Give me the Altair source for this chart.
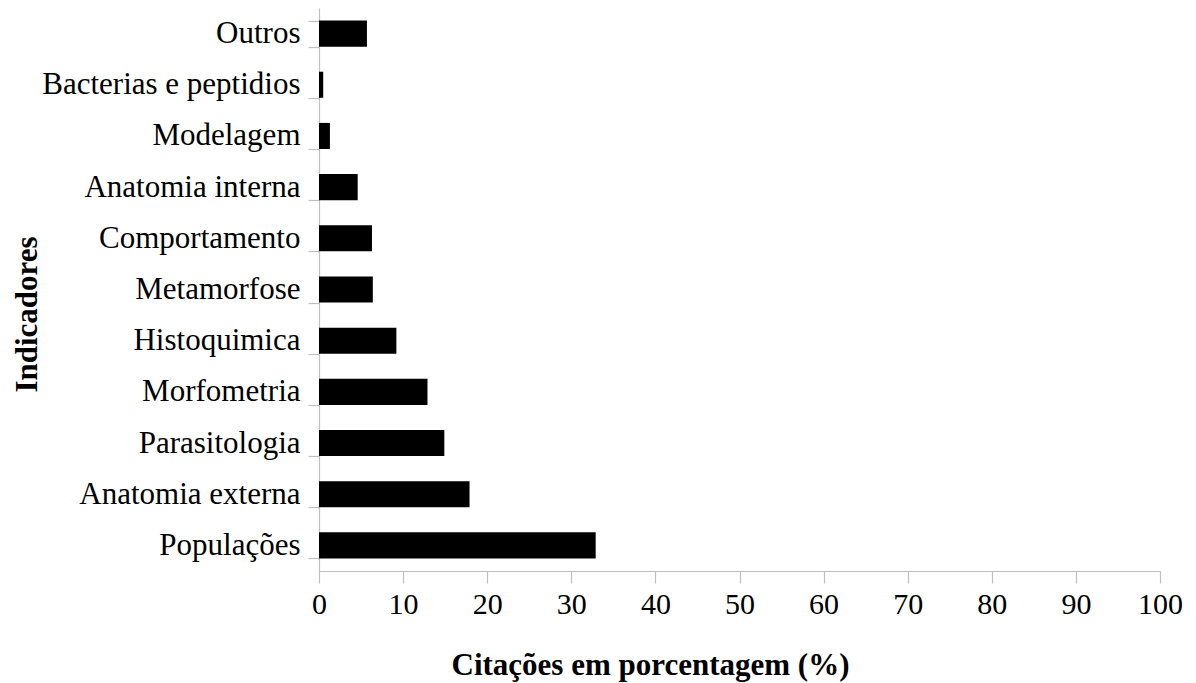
import altair as alt
import pandas as pd

categorias = ["Outros", "Bacterias e peptidios", "Modelagem", "Anatomia interna",
              "Comportamento", "Metamorfose", "Histoquimica", "Morfometria",
              "Parasitologia", "Anatomia externa", "Populações"]
valores = [5.7, 0.5, 1.3, 4.6, 6.3, 6.4, 9.2, 12.9, 14.9, 17.9, 32.9]
ticks_x = [0, 10, 20, 30, 40, 50, 60, 70, 80, 90, 100]

df = pd.DataFrame({"Indicador": categorias, "Citacoes": valores})

FONT = "Liberation Serif"
GREY = "#bfbfbf"

chart = alt.Chart(df).mark_bar(color="black").encode(
    x=alt.X(
        "Citacoes:Q",
        scale=alt.Scale(domain=[0, 100], nice=False, zero=True),
        axis=alt.Axis(
            values=ticks_x, title="Citações em porcentagem (%)", grid=False,
            tickSize=12, labelPadding=6, labelFontSize=30, labelFlush=False,
            titleX=331, titleY=103, titleBaseline="alphabetic", titleAnchor="middle"
        ),
    ),
    y=alt.Y(
        "Indicador:N", sort=categorias,
        scale=alt.Scale(paddingInner=0.49, paddingOuter=0.245),
        axis=alt.Axis(
            title="Indicadores", tickBand="extent", tickSize=11, labelPadding=8,
            labelFontSize=31, labelLimit=500,
            titleX=-292, titleY=306, titleBaseline="middle", titleAngle=-90,
            titleAlign="center"
        ),
    ),
).properties(
    width=841, height=563,
    autosize=alt.AutoSizeParams(type="none"),
    padding={"left": 311, "top": 0, "right": 28, "bottom": 112},
).configure_view(stroke=None).configure_axis(
    labelFont=FONT, titleFont=FONT, titleFontSize=31,
    labelColor="black", titleColor="black", titleFontWeight="bold",
    domainColor=GREY, tickColor=GREY, domainWidth=1.2, tickWidth=1.2,
    labelFontWeight="normal",
)

chart.save("out.html", embed_options={"renderer": "svg", "actions": False})
